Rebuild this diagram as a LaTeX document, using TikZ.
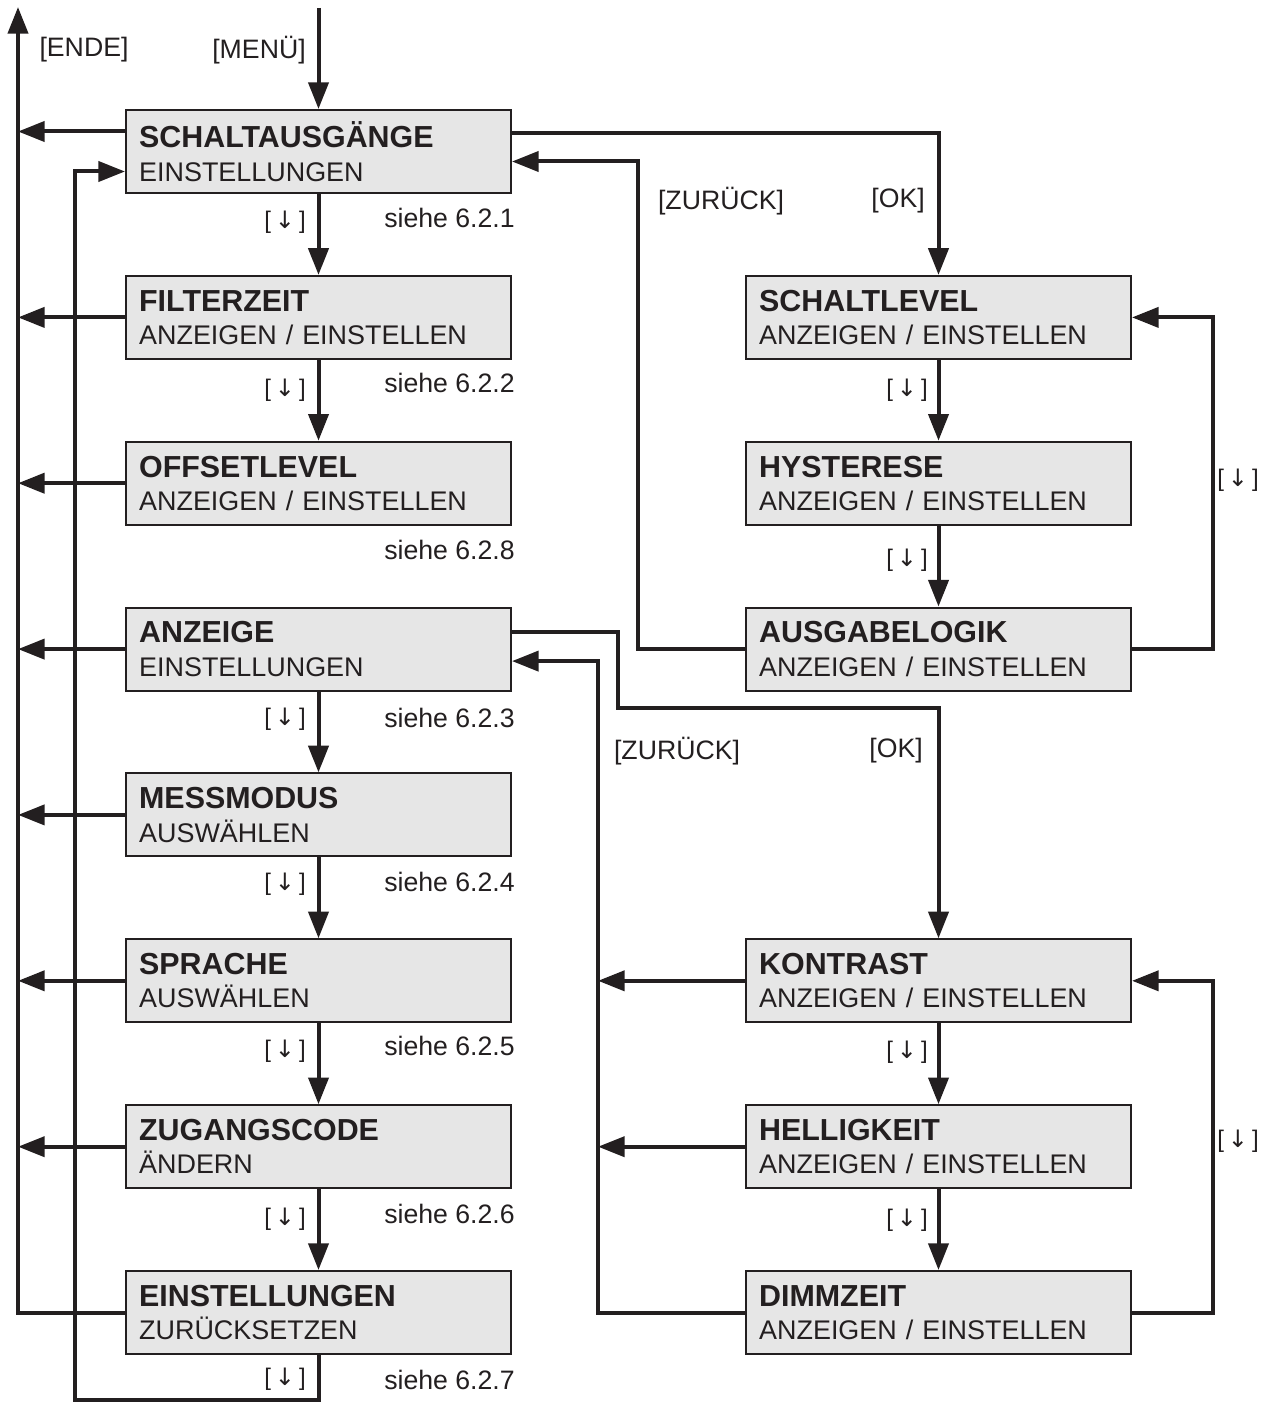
\documentclass[tikz,border=0pt]{standalone}
\usepackage{fontspec}
\setmainfont{Liberation Sans}
\newfontfamily\symfont{DejaVu Sans}
\usetikzlibrary{arrows.meta}

\definecolor{boxgray}{RGB}{230,230,230}
\definecolor{linegray}{RGB}{35,31,32}

\newcommand{\keydown}{[\,{\symfont ↓}\,]}

\begin{document}
\begin{tikzpicture}[x=0.75pt,y=0.75pt,yscale=-1,xscale=1,
  menubox/.style={draw=linegray, fill=boxgray, line width=1.5pt, minimum width=288.75pt,
    minimum height=62.25pt, text width=269pt, inner xsep=9.75pt, align=left,
    text=linegray, font=\fontsize{20.2}{25}\selectfont},
  flow/.style={draw=linegray, line width=3pt, -{Triangle[length=20pt,width=15pt]}},
  lbl/.style={text=linegray, font=\fontsize{20}{24}\selectfont, inner sep=0pt},
  keylbl/.style={text=linegray, font=\fontsize{18}{20}\selectfont, inner sep=0pt}]
\useasboundingbox (0,0) rectangle (1271,1405);

%Boxes, left column
\node[menubox] (schalt) at (318.5,151.5) {{\bfseries\fontsize{22.8}{25}\selectfont SCHALTAUSGÄNGE}\\EINSTELLUNGEN};
\node[menubox] (filter) at (318.5,317.4) {{\bfseries\fontsize{22.8}{25}\selectfont FILTERZEIT}\\ANZEIGEN / EINSTELLEN};
\node[menubox] (offset) at (318.5,483.2) {{\bfseries\fontsize{22.8}{25}\selectfont OFFSETLEVEL}\\ANZEIGEN / EINSTELLEN};
\node[menubox] (anzeige) at (318.5,649.1) {{\bfseries\fontsize{22.8}{25}\selectfont ANZEIGE}\\EINSTELLUNGEN};
\node[menubox] (mess) at (318.5,814.9) {{\bfseries\fontsize{22.8}{25}\selectfont MESSMODUS}\\AUSWÄHLEN};
\node[menubox] (sprache) at (318.5,980.8) {{\bfseries\fontsize{22.8}{25}\selectfont SPRACHE}\\AUSWÄHLEN};
\node[menubox] (code) at (318.5,1146.7) {{\bfseries\fontsize{22.8}{25}\selectfont ZUGANGSCODE}\\ÄNDERN};
\node[menubox] (reset) at (318.5,1312.5) {{\bfseries\fontsize{22.8}{25}\selectfont EINSTELLUNGEN}\\ZURÜCKSETZEN};

%Boxes, right column
\node[menubox] (level) at (938.5,317.4) {{\bfseries\fontsize{22.8}{25}\selectfont SCHALTLEVEL}\\ANZEIGEN / EINSTELLEN};
\node[menubox] (hyst) at (938.5,483.2) {{\bfseries\fontsize{22.8}{25}\selectfont HYSTERESE}\\ANZEIGEN / EINSTELLEN};
\node[menubox] (logik) at (938.5,649.1) {{\bfseries\fontsize{22.8}{25}\selectfont AUSGABELOGIK}\\ANZEIGEN / EINSTELLEN};
\node[menubox] (kontrast) at (938.5,980.8) {{\bfseries\fontsize{22.8}{25}\selectfont KONTRAST}\\ANZEIGEN / EINSTELLEN};
\node[menubox] (hell) at (938.5,1146.7) {{\bfseries\fontsize{22.8}{25}\selectfont HELLIGKEIT}\\ANZEIGEN / EINSTELLEN};
\node[menubox] (dimm) at (938.5,1312.5) {{\bfseries\fontsize{22.8}{25}\selectfont DIMMZEIT}\\ANZEIGEN / EINSTELLEN};

%Corner points
\coordinate (menu) at (318.5,8);
\coordinate (ende) at (18,7);
\coordinate (loopbot) at (75,1400);
\coordinate (zback1) at (638,0);
\coordinate (zback2) at (598,0);
\coordinate (okjog) at (618,708);
\coordinate (rloop) at (1213,0);

%Straight Lines
\draw[flow] (menu) -- (schalt.north);
\draw[flow] (reset.west) -| (ende);
\draw[flow] ([yshift=-15pt]schalt.west) -- ([yshift=-15pt]schalt.west -| ende);
\foreach \n in {filter,offset,anzeige,mess,sprache,code}
  \draw[flow] (\n.west) -- (\n.west -| ende);
\foreach \a/\b in {schalt/filter,filter/offset,anzeige/mess,mess/sprache,sprache/code,code/reset,level/hyst,hyst/logik,kontrast/hell,hell/dimm}
  \draw[flow] (\a.south) -- (\b.north);
\draw[flow] (reset.south) |- (loopbot) |- ([yshift=15pt]schalt.west);

%Schaltausgaenge submenu
\draw[flow] ([yshift=-14pt]schalt.east) -| (level.north);
\draw[flow] (logik.west) -| ([yshift=7.5pt]schalt.east -| zback1) -- ([yshift=7.5pt]schalt.east);
\draw[flow] (logik.east) -| (rloop |- level.east) -- (level.east);

%Anzeige submenu
\draw[flow] ([yshift=-13pt]anzeige.east) -| (okjog) -| (kontrast.north);
\draw[flow] (dimm.west) -| ([yshift=9pt]anzeige.east -| zback2) -- ([yshift=9pt]anzeige.east);
\draw[flow] (kontrast.west) -- (kontrast.west -| zback2);
\draw[flow] (hell.west) -- (hell.west -| zback2);
\draw[flow] (dimm.east) -| (rloop |- kontrast.east) -- (kontrast.east);

% Text Node
\node[lbl] (tende) at (84,50) {[ENDE]};
\node[lbl] (tmenu) at (259,50) {[MENÜ]};
\node[lbl] (tzur1) at (721,201) {[ZURÜCK]};
\node[lbl] (tok1) at (898,201) {[OK]};
\node[lbl] (tzur2) at (677,751) {[ZURÜCK]};
\node[lbl] (tok2) at (896,751) {[OK]};

% Text Node
\foreach \y/\s in {218/1,383/2,550/8,718/3,882/4,1046/5,1214/6,1380/7}
  \node[lbl, anchor=east] at (515,\y) {siehe 6.2.\s};
\foreach \y in {222,390,719,884,1051,1219,1379}
  \node[keylbl] at (285,\y) {\keydown};
\foreach \y in {390,560,1052,1220}
  \node[keylbl] at (907,\y) {\keydown};
\node[keylbl] (key1) at (1238,480) {\keydown};
\node[keylbl] (key2) at (1238,1141) {\keydown};

\end{tikzpicture}
\end{document}
